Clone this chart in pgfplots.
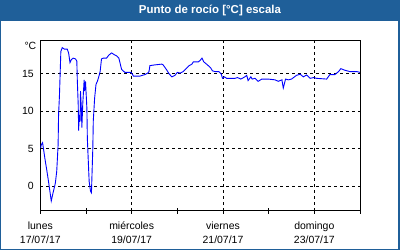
\documentclass[border=0pt]{standalone}
\usepackage{pgfplots}
\pgfplotsset{compat=1.18}
\usepackage{fontspec}
\setmainfont{Liberation Sans}
\definecolor{frameblue}{RGB}{31,95,153}
\begin{document}
\begin{tikzpicture}
\useasboundingbox (0bp,0bp) rectangle (400bp,250bp);
\fill[frameblue] (0bp,0bp) rectangle (400bp,250bp);
\fill[white] (1bp,1.3bp) rectangle (398bp,229bp);
\node[text=white,font=\bfseries\fontsize{11.5}{13}\selectfont] at (210bp,239.5bp) {Punto de rocío [°C] escala};
\node[anchor=east,font=\fontsize{10.5}{12}\selectfont,inner sep=0pt] at (36.5bp,204bp) {°C};
\begin{axis}[
  at={(40.3bp,39.3bp)}, anchor=south west,
  scale only axis, width=319.7bp, height=170.5bp,
  xmin=0, xmax=7, ymin=-3.3, ymax=19.5,
  axis line style={line width=0.8bp, black},
  xtick={0,2,4,6}, minor xtick={1,3,5,7},
  xticklabels={{lunes\\17/07/17},{miércoles\\19/07/17},{viernes\\21/07/17},{domingo\\23/07/17}},
  xticklabel style={align=center, font=\fontsize{10.5}{14.5}\selectfont, yshift=-4.5bp},
  ytick={0,5,10,15},
  yticklabel style={font=\fontsize{10.5}{12}\selectfont},
  /pgf/number format/assume math mode=true,
  tick align=center, major tick length=6bp, minor tick length=6bp,
  x tick style={line width=0.8bp, black},
  y tick style={draw=none},
  xtick pos=bottom,
  grid=major,
  major grid style={black, line width=0.8bp, dash pattern=on 3bp off 3bp},
  clip=true,
]
\addplot[blue, line width=0.9bp] coordinates {
(0.01,5.1) (0.02,5.5) (0.05,5.8) (0.10,3.7) (0.14,2.2) (0.18,0.6) (0.21,-0.7) (0.24,-2.0)
(0.28,-0.9) (0.33,0.4) (0.36,2.0) (0.39,5.5) (0.40,9.5) (0.42,12.2) (0.45,18.0) (0.48,18.5)
(0.53,18.3) (0.59,18.3) (0.62,17.8) (0.65,16.5) (0.68,16.9) (0.72,17.1) (0.77,17.0) (0.80,16.7)
(0.81,14.2) (0.83,10.9) (0.84,7.4) (0.85,9.5) (0.87,8.6) (0.88,12.7) (0.90,10.2) (0.91,7.8)
(0.93,11.0) (0.96,14.2) (0.97,12.7) (0.99,14.0) (1.02,10.4) (1.03,6.4) (1.06,2.0) (1.07,0.6)
(1.10,-0.7) (1.12,-0.9) (1.13,1.1) (1.15,5.1) (1.16,8.7) (1.19,11.8) (1.22,13.6) (1.25,14.0)
(1.28,14.6) (1.31,15.3) (1.34,17.0) (1.38,17.1) (1.45,17.1) (1.50,17.5) (1.56,17.8) (1.61,17.6)
(1.67,17.4) (1.72,17.1) (1.78,15.6) (1.85,15.2) (1.99,15.2) (2.04,14.7) (2.18,14.7) (2.29,14.9)
(2.35,15.1) (2.38,15.3) (2.40,16.1) (2.51,16.2) (2.66,16.3) (2.69,16.2) (2.77,15.5) (2.82,15.0)
(2.88,14.6) (2.95,14.8) (3.00,15.2) (3.06,15.1) (3.13,15.3) (3.21,15.8) (3.26,16.1) (3.32,16.3)
(3.35,16.6) (3.46,16.6) (3.50,16.8) (3.54,17.1) (3.58,16.6) (3.66,16.2) (3.73,15.8) (3.77,15.4)
(3.83,15.3) (3.91,15.3) (3.96,15.0) (3.99,14.4) (4.03,14.6) (4.08,14.4) (4.26,14.4) (4.32,14.5)
(4.39,14.3) (4.48,14.6) (4.52,14.8) (4.55,14.1) (4.61,14.6) (4.64,14.3) (4.70,14.4) (4.77,14.0)
(4.85,14.3) (4.99,14.3) (5.14,14.2) (5.21,14.0) (5.29,14.2) (5.32,13.1) (5.37,14.3) (5.43,14.2)
(5.50,14.3) (5.61,14.8) (5.69,14.95) (5.76,14.6) (5.83,14.85) (5.91,14.4) (5.98,14.5) (6.05,14.4)
(6.27,14.3) (6.34,14.9) (6.45,14.9) (6.53,15.3) (6.58,15.7) (6.66,15.5) (6.78,15.3) (6.93,15.3)
(7.00,15.2)
};
\end{axis}
\end{tikzpicture}
\end{document}
